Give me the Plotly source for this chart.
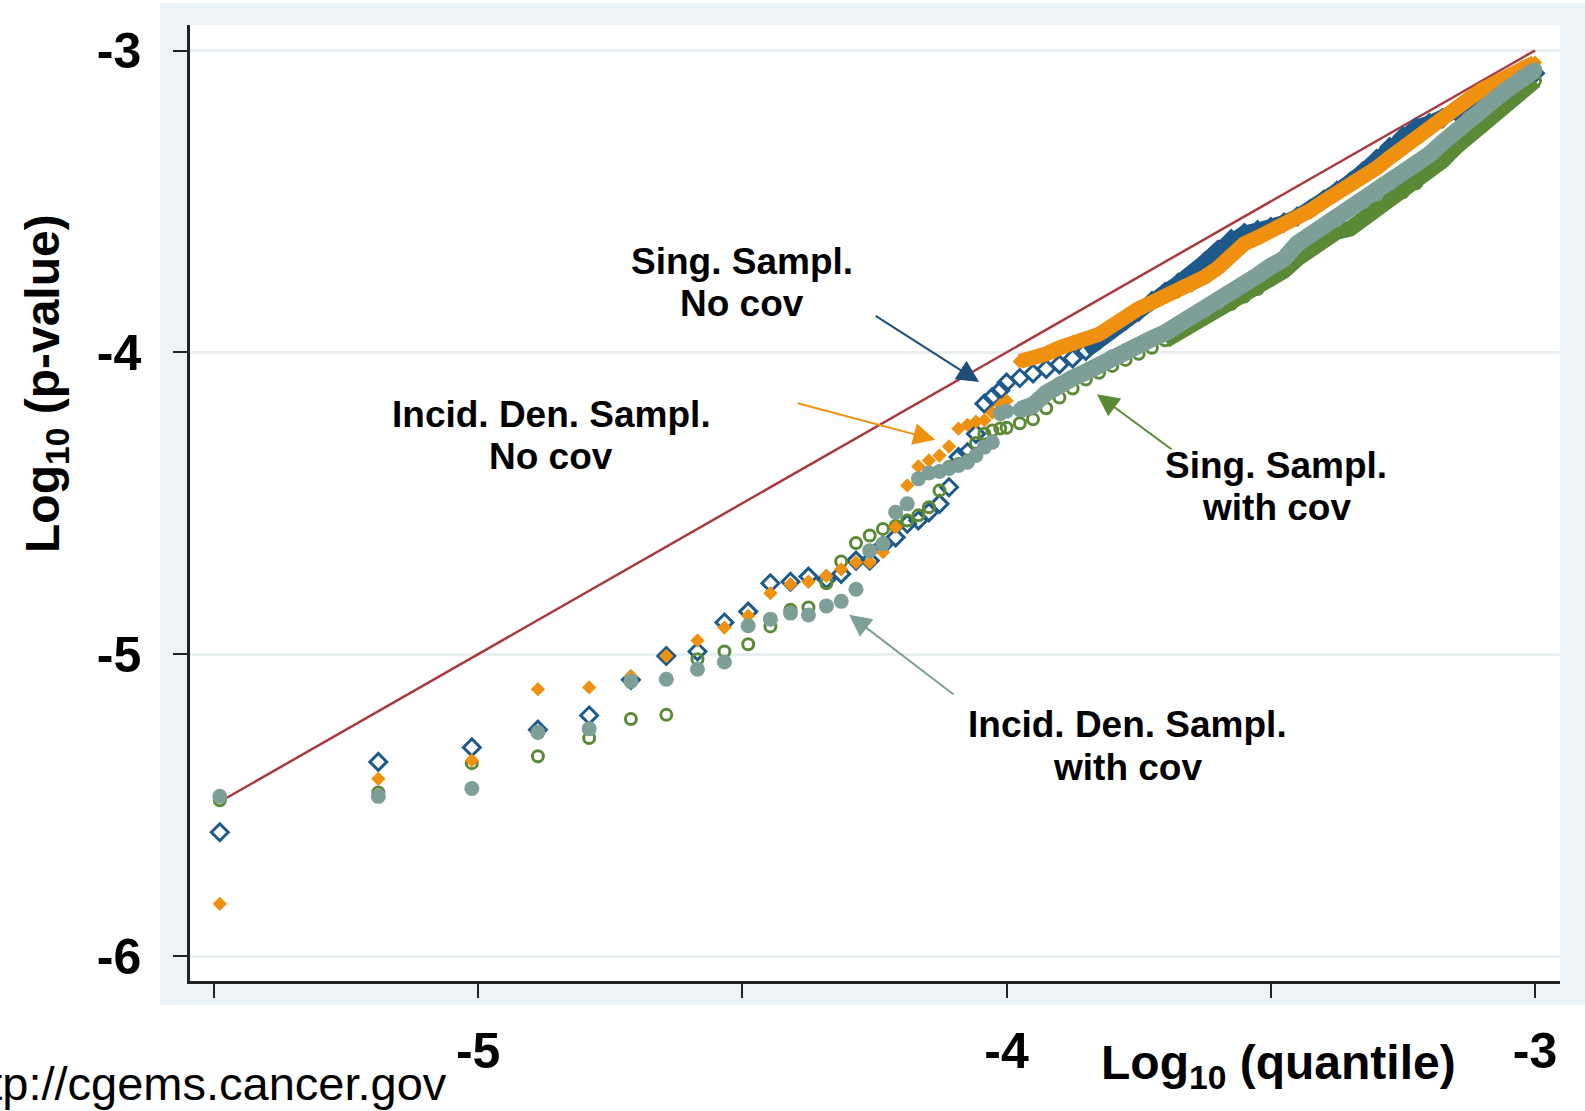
import plotly.graph_objects as go

# ---------------- data ----------------
# expected log10 quantiles for the sparse (most significant) ranks
X_SPARSE = [-5.489, -5.189, -5.012, -4.887, -4.790, -4.711, -4.644, -4.585, -4.534, -4.489,
            -4.447, -4.409, -4.375, -4.341, -4.313, -4.285, -4.259, -4.234, -4.210, -4.188,
            -4.167, -4.147, -4.127, -4.109, -4.091, -4.074, -4.058, -4.042, -4.027, -4.012]
# expected log10 quantiles for the dense part of the curve
X_DENSE = [-4.000, -3.975, -3.950, -3.925, -3.900, -3.875, -3.850, -3.825, -3.800, -3.775,
           -3.750, -3.725, -3.700, -3.675, -3.650, -3.625, -3.600, -3.575, -3.550, -3.525,
           -3.500, -3.475, -3.450, -3.425, -3.400, -3.375, -3.350, -3.325, -3.300, -3.275,
           -3.250, -3.225, -3.200, -3.175, -3.150, -3.125, -3.100, -3.075, -3.050, -3.025,
           -3.000]

# Sing. Sampl. No cov (blue open diamonds)
BLUE_SPARSE = [-5.590, -5.357, -5.309, -5.250, -5.203, -5.085, -5.006, -4.991, -4.895, -4.859,
               -4.765, -4.760, -4.743, -4.752, -4.734, -4.690, -4.690, -4.640, -4.613, -4.568,
               -4.557, -4.530, -4.502, -4.447, -4.347, -4.331, -4.270, -4.170, -4.148, -4.126]
BLUE_DENSE = [-4.100, -4.085, -4.070, -4.055, -4.040, -4.020, -3.995, -3.960, -3.925, -3.895,
              -3.865, -3.830, -3.800, -3.770, -3.740, -3.700, -3.660, -3.625, -3.605, -3.595,
              -3.585, -3.570, -3.550, -3.525, -3.495, -3.465, -3.435, -3.400, -3.360, -3.320,
              -3.285, -3.255, -3.240, -3.225, -3.200, -3.175, -3.150, -3.125, -3.105, -3.090,
              -3.075]

# Incid. Den. Sampl. No cov (orange filled diamonds)
ORANGE_SPARSE = [-5.827, -5.413, -5.352, -5.116, -5.110, -5.074, -5.006, -4.955, -4.912, -4.873,
                 -4.798, -4.768, -4.760, -4.741, -4.719, -4.696, -4.696, -4.662, -4.579, -4.441,
                 -4.378, -4.358, -4.342, -4.312, -4.253, -4.240, -4.230, -4.225, -4.200, -4.175]
ORANGE_DENSE = [-4.160, -4.030, -4.020, -4.005, -3.985, -3.965, -3.955, -3.940, -3.910, -3.880,
                -3.855, -3.835, -3.815, -3.800, -3.780, -3.750, -3.720, -3.680, -3.640, -3.620,
                -3.600, -3.575, -3.550, -3.530, -3.500, -3.475, -3.450, -3.420, -3.390, -3.355,
                -3.320, -3.285, -3.260, -3.220, -3.190, -3.160, -3.130, -3.105, -3.080, -3.055,
                -3.040]

# Sing. Sampl. with cov (green open circles)
GREEN_SPARSE = [-5.484, -5.458, -5.361, -5.338, -5.278, -5.215, -5.201, -5.017, -4.991, -4.967,
                -4.908, -4.853, -4.845, -4.765, -4.693, -4.632, -4.607, -4.585, -4.575, -4.557,
                -4.540, -4.513, -4.458, -4.380, -4.370, -4.358, -4.300, -4.270, -4.259, -4.252]
GREEN_DENSE = [-4.250, -4.235, -4.222, -4.185, -4.150, -4.120, -4.090, -4.068, -4.045, -4.025,
               -4.005, -3.985, -3.960, -3.935, -3.905, -3.880, -3.860, -3.840, -3.815, -3.790,
               -3.760, -3.730, -3.690, -3.655, -3.625, -3.600, -3.590, -3.560, -3.525, -3.495,
               -3.470, -3.440, -3.400, -3.365, -3.320, -3.285, -3.250, -3.212, -3.175, -3.138,
               -3.100]

# Incid. Den. Sampl. with cov (grey-teal filled circles)
GRAY_SPARSE = [-5.471, -5.471, -5.445, -5.259, -5.247, -5.090, -5.083, -5.050, -5.026, -4.906,
               -4.884, -4.864, -4.870, -4.840, -4.825, -4.785, -4.657, -4.634, -4.530, -4.502,
               -4.419, -4.400, -4.395, -4.385, -4.375, -4.364, -4.342, -4.314, -4.298, -4.203]
GRAY_DENSE = [-4.195, -4.190, -4.175, -4.135, -4.105, -4.085, -4.065, -4.040, -4.015, -3.995,
              -3.975, -3.955, -3.935, -3.910, -3.885, -3.860, -3.835, -3.805, -3.775, -3.745,
              -3.715, -3.690, -3.640, -3.610, -3.585, -3.560, -3.525, -3.500, -3.475, -3.440,
              -3.405, -3.375, -3.345, -3.305, -3.265, -3.225, -3.195, -3.160, -3.125, -3.090,
              -3.065]

# reference (expected = observed) line
REF_X = [-5.489, -3.000]
REF_Y = [-5.489, -3.000]

X_TICKS = [-5.5, -5.0, -4.5, -4.0, -3.5, -3.0]
X_TICKTEXT = ["", "-5", "", "-4", "", "-3"]
Y_TICKS = [-6, -5, -4, -3]
Y_TICKTEXT = ["-6", "-5", "-4", "-3"]

# ---------------- styling ----------------
BLUE = "#1d5a8b"
ARROW_BLUE = "#1f4e7a"
ORANGE = "#f0900f"
GREEN = "#5b8a36"
GRAY = "#7e9e98"
RED = "#a93a42"
BOXBG = "#edf3f6"
FONT = "Liberation Sans, Arial, sans-serif"

W, H = 1585, 1111
L, R, T, B = 190, 1560, 25, 981  # plot area in pixels


def pxx(x):
    return (x - L) / (R - L)


def pxy(y):
    return (B - y) / (B - T)


fig = go.Figure()

fig.add_trace(go.Scatter(x=REF_X, y=REF_Y, mode="lines",
                         line=dict(color=RED, width=2.5), hoverinfo="skip"))


def add_series(xs, xd, ys, yd, color, symbol, size, lw, band_from, band_w):
    fig.add_trace(go.Scatter(
        x=xs + xd, y=ys + yd, mode="markers",
        marker=dict(symbol=symbol, size=size, color=color,
                    line=dict(color=color, width=lw))))
    idx = [i for i, v in enumerate(xd) if v >= band_from]
    fig.add_trace(go.Scatter(
        x=[xd[i] for i in idx], y=[yd[i] for i in idx], mode="lines",
        line=dict(color=color, width=band_w), hoverinfo="skip"))


add_series(X_SPARSE, X_DENSE, BLUE_SPARSE, BLUE_DENSE, BLUE, "diamond-open", 13, 3, -3.85, 15)
add_series(X_SPARSE, X_DENSE, GREEN_SPARSE, GREEN_DENSE, GREEN, "circle-open", 11, 3, -3.70, 16)
add_series(X_SPARSE, X_DENSE, ORANGE_SPARSE, ORANGE_DENSE, ORANGE, "diamond", 11, 0, -3.975, 15)
add_series(X_SPARSE, X_DENSE, GRAY_SPARSE, GRAY_DENSE, GRAY, "circle", 15, 0, -3.975, 17)

# background panel and white plot region
shapes = [
    dict(type="rect", xref="paper", yref="paper", layer="below",
         x0=pxx(160), x1=pxx(1585), y0=pxy(1005), y1=pxy(3),
         fillcolor=BOXBG, line=dict(width=0)),
    dict(type="rect", xref="paper", yref="paper", layer="below",
         x0=0, x1=1, y0=0, y1=1, fillcolor="white", line=dict(width=0)),
]

annotations = []
txt_font = dict(family=FONT, size=37, color="black")
for text, cx, cy in [
    ("Sing. Sampl.", 742, 261), ("No cov", 742, 303),
    ("Incid. Den. Sampl.", 551, 414), ("No cov", 551, 457),
    ("Sing. Sampl.", 1276, 465), ("with cov", 1276, 508),
    ("Incid. Den. Sampl.", 1127, 724), ("with cov", 1127, 768),
]:
    annotations.append(dict(text=f"<b>{text}</b>", xref="paper", yref="paper",
                            x=pxx(cx), y=pxy(cy), xanchor="center", yanchor="middle",
                            showarrow=False, font=txt_font))

# arrows (head at data coordinates, tail offset in pixels)
for hx, hy, ax, ay, col in [
    (-4.052, -4.098, -105, -67, ARROW_BLUE),
    (-4.135, -4.290, -139, -37, ORANGE),
    (-3.829, -4.139, 76, 56, GREEN),
    (-4.298, -4.869, 106, 81, GRAY),
]:
    annotations.append(dict(x=hx, y=hy, xref="x", yref="y", ax=ax, ay=ay,
                            axref="pixel", ayref="pixel", text="", showarrow=True,
                            arrowhead=2, arrowsize=2.2, arrowwidth=2, arrowcolor=col))

title_font = dict(family=FONT, size=48, color="black")
annotations.append(dict(text="<b>Log<sub>10</sub> (p-value)</b>", textangle=-90,
                        xref="paper", yref="paper", x=pxx(46), y=pxy(384),
                        xanchor="center", yanchor="middle", showarrow=False, font=title_font))
annotations.append(dict(text="<b>Log<sub>10</sub> (quantile)</b>",
                        xref="paper", yref="paper", x=pxx(1278), y=pxy(1066),
                        xanchor="center", yanchor="middle", showarrow=False, font=title_font))
annotations.append(dict(text="http://cgems.cancer.gov",
                        xref="paper", yref="paper", x=pxx(449), y=pxy(1083),
                        xanchor="right", yanchor="middle", showarrow=False,
                        font=dict(family=FONT, size=47, color="black")))

tick_font = dict(family=FONT, size=50, color="black")
fig.update_layout(
    width=W, height=H,
    margin=dict(l=L, r=W - R, t=T, b=H - B),
    paper_bgcolor="white", plot_bgcolor="white",
    showlegend=False,
    shapes=shapes, annotations=annotations,
    xaxis=dict(range=[-5.5454, -2.9527], tickmode="array", tickvals=X_TICKS,
               ticktext=[f"<b>{t}</b>" if t else "" for t in X_TICKTEXT],
               ticks="outside", ticklen=14, tickwidth=2,
               tickcolor="#222222", showgrid=False, zeroline=False,
               showline=True, linecolor="#222222", linewidth=2.5,
               tickfont=tick_font, ticklabelstandoff=10),
    yaxis=dict(range=[-6.0828, -2.9155], tickmode="array", tickvals=Y_TICKS,
               ticktext=[f"<b>{t}</b>" for t in Y_TICKTEXT], ticks="outside", ticklen=14,
               tickwidth=2, tickcolor="#222222", showgrid=True, gridcolor="#e9eff1",
               gridwidth=3, zeroline=False, showline=True, linecolor="#222222",
               linewidth=2.5, tickfont=tick_font, ticklabelstandoff=22),
)

fig.write_html("out.html")
